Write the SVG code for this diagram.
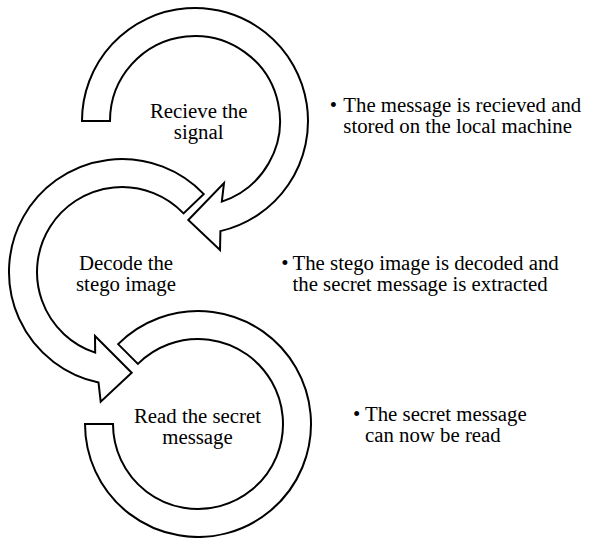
<svg xmlns="http://www.w3.org/2000/svg" width="593" height="538" viewBox="0 0 593 538">
<style>
.band{fill:#fff;stroke:#000;stroke-width:2;stroke-linejoin:miter}
.t{font-size:20.8px;fill:#000}
.c{text-anchor:middle}
</style>
<rect width="593" height="538" fill="#fff"/>
<g id="connectors">
<path id="arrow1" class="band" d="M82,121 A113,113 0 1 1 220.42,231.1 L220,250 L188.3,220 L224,183 L221.83,201.66 A85,85 0 1 0 110,121 Z"/>
<path id="arrow2" class="band" d="M203.83,194.08 A113,113 0 1 0 98.51,382.53 L100.7,401.7 L131.7,372.7 L95,336 L95.17,352.66 A85,85 0 1 1 183.56,213.38 Z"/>
<path id="arrow3" class="band" d="M85,424 A113,113 0 1 0 118.1,344.1 L137.9,363.9 A85,85 0 1 1 113,424 Z"/>
</g>
<g font-family="'Liberation Serif', 'Times New Roman', serif" class="t">
<g id="step1">
<text class="c" x="198.7" y="118">Recieve the</text>
<text class="c" x="198.7" y="139">signal</text>
</g>
<g id="step2">
<text class="c" x="126" y="270">Decode the</text>
<text class="c" x="126" y="291">stego image</text>
</g>
<g id="step3">
<text class="c" x="197.5" y="423">Read the secret</text>
<text class="c" x="197.5" y="444">message</text>
</g>
<g id="desc1">
<text x="329.7" y="111.7">•</text>
<text x="343.3" y="111.7">The message is recieved and</text>
<text x="343.3" y="132.7">stored on the local machine</text>
</g>
<g id="desc2">
<text x="281.3" y="270">•</text>
<text x="292.5" y="270">The stego image is decoded and</text>
<text x="292.5" y="291">the secret message is extracted</text>
</g>
<g id="desc3">
<text x="353" y="421">•</text>
<text x="365" y="421">The secret message</text>
<text x="365" y="442">can now be read</text>
</g>
</g>
</svg>
